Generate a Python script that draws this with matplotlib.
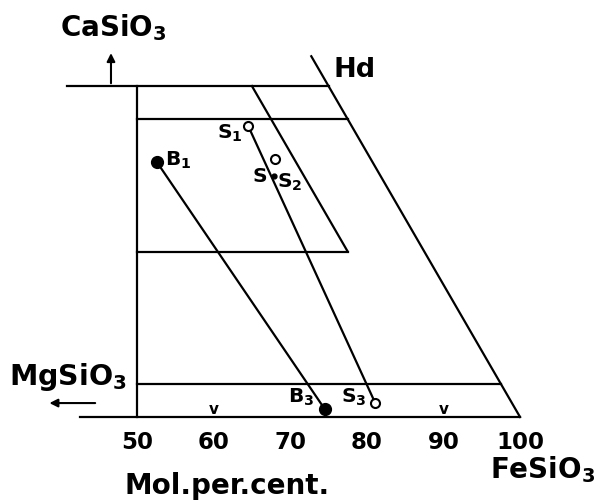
import matplotlib
matplotlib.use("Agg")
import matplotlib.pyplot as plt

plt.rcParams['font.family'] = ['DejaVu Sans']
plt.rcParams['mathtext.default'] = 'bf'

# Pyroxene quadrilateral, x = FeSiO3 position (Mol. per cent), y = CaSiO3 content
wo_lines = [45, 25, 5]               # horizontal CaSiO3 lines
wo_line_ends = [77.5, 77.5, 97.5]    # where each horizontal line stops
tick_values = [50, 60, 70, 80, 90, 100]
tick_labels = ["50", "60", "70", "80", "90", "100"]
v_marks = [60, 90]

# tie-line samples
b_names = ["B$_1$", "B$_3$"]
b_x = [52.6, 74.5]
b_y = [38.5, 1.2]
s_names = ["S$_1$", "S$_3$"]
s_x = [64.5, 81.1]
s_y = [44.0, 2.1]
s2_x, s2_y = 68.0, 39.0
s_dot_x, s_dot_y = 67.9, 36.4

fig = plt.figure(figsize=(6.11, 5.03), dpi=100)
ax = fig.add_axes([0, 0, 1, 1])
ax.set_xlim(32.11, 111.88)
ax.set_ylim(-13.0, 63.0)
ax.axis('off')

lw = 1.6
k = 'black'
# outer frame
ax.plot([40.9, 75], [50, 50], color=k, lw=lw)           # top (Di-Hd) line
ax.plot([42.6, 100], [0, 0], color=k, lw=lw)            # base line
ax.plot([50, 50], [0, 50], color=k, lw=lw)              # left vertical
ax.plot([72.75, 100], [54.5, 0], color=k, lw=lw)        # Hd - Fs line
for w, e in zip(wo_lines, wo_line_ends):
    ax.plot([50, e], [w, w], color=k, lw=lw)
# En10 line
ax.plot([65, 77.5], [50, 25], color=k, lw=lw)

# tie lines
ax.plot(b_x, b_y, color=k, lw=lw)
ax.plot(s_x, s_y, color=k, lw=lw)
ax.plot(b_x, b_y, 'o', color=k, ms=8.5, zorder=5)
ax.plot(s_x, s_y, 'o', mfc='white', mec=k, mew=1.5, ms=6.5, zorder=5)
ax.plot([s2_x], [s2_y], 'o', mfc='white', mec=k, mew=1.5, ms=6.5, zorder=5)
ax.plot([s_dot_x], [s_dot_y], 'o', color=k, ms=3.5, zorder=5)

# v marks on base line
for v in v_marks:
    ax.text(v, 0.0, "v", fontsize=11, fontweight='bold', ha='center', va='bottom')

# labels of points
fs_pt = 14.5
ax.text(53.7, 38.8, b_names[0], fontsize=fs_pt, fontweight='bold', ha='left', va='center')
ax.text(73.2, 2.9, b_names[1], fontsize=fs_pt, fontweight='bold', ha='right', va='center')
ax.text(63.8, 42.9, s_names[0], fontsize=fs_pt, fontweight='bold', ha='right', va='center')
ax.text(79.9, 2.9, s_names[1], fontsize=fs_pt, fontweight='bold', ha='right', va='center')
ax.text(67.0, 36.3, "S", fontsize=fs_pt, fontweight='bold', ha='right', va='center')
ax.text(68.3, 35.5, "S$_2$", fontsize=fs_pt, fontweight='bold', ha='left', va='center')

# tick labels
for v, lab in zip(tick_values, tick_labels):
    ax.text(v, -3.9, lab, fontsize=16.5, fontweight='bold', ha='center', va='center')

# axis / corner labels
ax.text(75.6, 52.4, "Hd", fontsize=19.5, fontweight='bold', ha='left', va='center')
ax.text(39.9, 58.8, "CaSiO$_3$", fontsize=20, fontweight='bold', ha='left', va='center')
ax.text(33.3, 6.0, "MgSiO$_3$", fontsize=20.5, fontweight='bold', ha='left', va='center')
ax.text(96.1, -8.0, "FeSiO$_3$", fontsize=20, fontweight='bold', ha='left', va='center')
ax.text(61.8, -10.5, "Mol.per.cent.", fontsize=20, fontweight='bold', ha='center', va='center')

# arrows
ax.annotate("", xy=(46.6, 55.4), xytext=(46.6, 50),
            arrowprops=dict(arrowstyle='-|>', color=k, lw=1.5, mutation_scale=12))
ax.annotate("", xy=(38.2, 2.1), xytext=(44.9, 2.1),
            arrowprops=dict(arrowstyle='-|>', color=k, lw=1.5, mutation_scale=12))

fig.savefig("out.png", dpi=100, facecolor='white')
